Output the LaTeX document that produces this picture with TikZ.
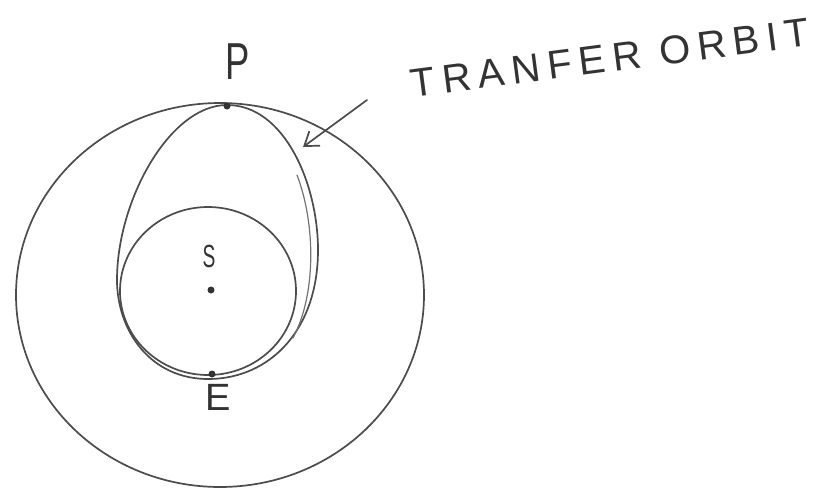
\documentclass[tikz,border=0pt]{standalone}
\usepackage{fontspec}
\setmainfont{Liberation Sans}
\usetikzlibrary{arrows.meta}
\begin{document}
\begin{tikzpicture}[x=1pt,y=-1pt,
  pencil/.style={draw=black!70,line width=1.7pt,line cap=round,line join=round},
  lbl/.style={text=black!80,inner sep=0pt},
  dotmark/.style={circle,fill=black!80,inner sep=0pt,minimum size=7pt}]
\fill[white] (0,0) rectangle (820,488);
\useasboundingbox (0,0) rectangle (820,488);
% orbits
\draw[pencil] (220,295) ellipse [x radius=204, y radius=192];
\draw[pencil] (208,291) ellipse [x radius=88, y radius=84];
\draw[pencil] (227,105) .. controls (285,105) and (318,185) .. (318,250)
  .. controls (318,330) and (270,378) .. (210,379)
  .. controls (150,380) and (117,330) .. (117,280)
  .. controls (117,200) and (170,105) .. (227,105);
\draw[pencil,line width=1.2pt,draw=black!55] (297,175) .. controls (316,225) and (316,295) .. (293,338);
% points
\node[dotmark] (P) at (227,106) {};
\node[dotmark] (S) at (211,290) {};
\node[dotmark] (E) at (212,374) {};
% labels
\node[lbl,font=\fontsize{52}{52}\selectfont] (Plbl) at (238,62) {\scalebox{0.7}[1]{P}};
\node[lbl,font=\fontsize{32}{32}\selectfont] (Slbl) at (209,256) {\scalebox{0.6}[1]{S}};
\node[lbl,font=\fontsize{38}{38}\selectfont] (Elbl) at (218,397) {E};
\node[lbl,rotate=7.4,font=\fontsize{40}{40}\selectfont\addfontfeature{LetterSpace=18}] (orbit) at (610,58) {TRANFER ORBIT};
% arrow
\coordinate (a0) at (367,100);
\coordinate (a1) at (303,147);
\draw[pencil,-{Straight Barb[length=13pt,width=18pt]}] (a0) -- (a1);
\end{tikzpicture}
\end{document}
